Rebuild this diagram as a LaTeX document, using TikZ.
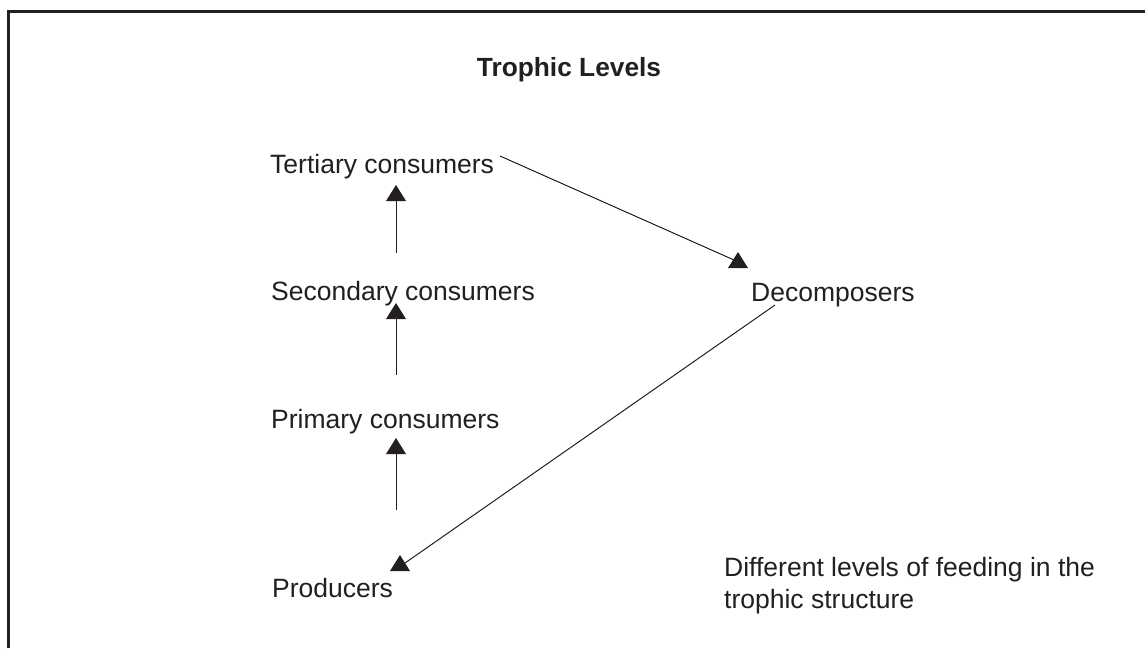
\documentclass[tikz,border=0pt]{standalone}
\usepackage{fontspec}
\setmainfont{Liberation Sans}
\begin{document}
\begin{tikzpicture}[x=1pt,y=-1pt,
  lbl/.style={inner sep=0pt,anchor=base west,text=ink,font=\fontsize{26.5}{32}\selectfont},
  ttl/.style={inner sep=0pt,anchor=base,text=ink,font=\fontsize{26.3}{32}\selectfont\bfseries},
  link/.style={draw=ink,line width=1pt},
  frame/.style={draw=ink,line width=3pt},
  tiphead/.pic={\fill[ink] (0,0) -- (-10,16) -- (10,16) -- cycle;}]
\definecolor{ink}{HTML}{231F20}
\useasboundingbox (0,0) rectangle (1145,648);
\fill[white] (0,0) rectangle (1145,648);
% frame (left and top edges)
\draw[frame] (8,648) -- (8,11) -- (1146,11);
% title and labels
\node[ttl] (title) at (569,76) {Trophic Levels};
\node[lbl] (tert) at (270,173) {Tertiary consumers};
\node[lbl] (sec)  at (271,300) {Secondary consumers};
\node[lbl] (prim) at (271,428) {Primary consumers};
\node[lbl] (prod) at (272,597) {Producers};
\node[lbl] (dec)  at (751,301) {Decomposers};
\node[lbl] (note1) at (724,576) {Different levels of feeding in the};
\node[lbl] (note2) at (724,608) {trophic structure};
% connector ends
\coordinate (a1s) at (396,253); \coordinate (a1e) at (396,185);
\coordinate (a2s) at (396,375); \coordinate (a2e) at (396,303);
\coordinate (a3s) at (396,510); \coordinate (a3e) at (396,438);
\coordinate (d1s) at (500,156); \coordinate (d1e) at (738,252);
\coordinate (d2s) at (775,305); \coordinate (d2e) at (400,555);
% connectors
\draw[link] (a1s) -- ([yshift=-10pt]a1e);
\pic at (a1e) {tiphead};
\draw[link] (a2s) -- ([yshift=-10pt]a2e);
\pic at (a2e) {tiphead};
\draw[link] (a3s) -- ([yshift=-10pt]a3e);
\pic at (a3e) {tiphead};
\draw[link] (d1s) -- (734,260);
\pic at (d1e) {tiphead};
\draw[link] (d2s) -- (405,563);
\pic at (d2e) {tiphead};
\end{tikzpicture}
\end{document}
